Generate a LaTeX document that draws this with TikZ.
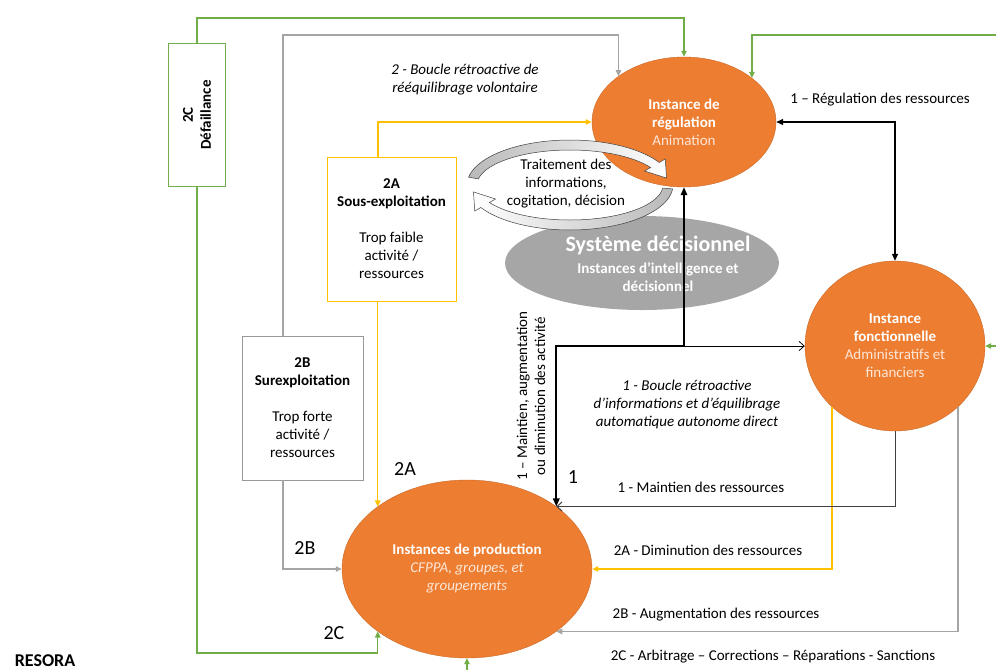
\documentclass[tikz,border=0pt]{standalone}
\usepackage{fontspec}
\setmainfont{Carlito}
\usetikzlibrary{shapes.geometric,arrows.meta,calc}
\definecolor{orng}{HTML}{ED7D31}
\definecolor{grn}{HTML}{70AD47}
\definecolor{ylw}{HTML}{FFC000}
\definecolor{gry}{HTML}{A5A5A5}
\definecolor{sysg}{HTML}{A6A6A6}
\definecolor{peach}{HTML}{FDE6D6}
\definecolor{dgry}{HTML}{404040}
\begin{document}
\begin{tikzpicture}[x=1pt,y=-1pt,
  every node/.style={font=\fontsize{15}{18}\selectfont, inner sep=0pt},
  inst/.style={ellipse, fill=orng, draw=orng!85!black, line width=0.4pt, text=white, align=center},
  boxn/.style={draw, fill=white, align=center, line width=0.8pt},
  lbl/.style={align=center},
  ital/.style={align=center, font=\fontsize{15}{18}\selectfont\itshape},
  big/.style={font=\fontsize{20}{24}\selectfont},
  tip/.style={-{Triangle[length=6pt,width=5.5pt]}},
  gl/.style={draw=grn, line width=1.3pt, tip},
  yl/.style={draw=ylw, line width=1.3pt, tip},
  grl/.style={draw=gry, line width=1.3pt, tip},
  blk/.style={draw=black, line width=1.6pt},
  band/.style={draw=black!75, line width=0.5pt}]
\useasboundingbox (0,0) rectangle (996,670);

% helper coordinates
\coordinate (gtop) at (0,18);
\coordinate (gyt) at (0,35);
\coordinate (gbot) at (0,653);
\coordinate (ybot) at (0,670);
\coordinate (yk) at (0,346);
\coordinate (redge) at (996,0);
\coordinate (grtop) at (996,35);

% main ellipses
\node[inst, minimum width=184pt, minimum height=130pt] (reg) at (684,122)
  {\textbf{Instance de}\\\textbf{régulation}\\\textcolor{peach}{Animation}};
\node[inst, minimum width=180pt, minimum height=170pt] (fonc) at (895,346)
  {\textbf{Instance}\\\textbf{fonctionnelle}\\\textcolor{peach}{Administratifs et}\\\textcolor{peach}{financiers}};
\node[inst, minimum width=250pt, minimum height=178pt] (prod) at (467,569)
  {\textbf{Instances de production}\\\textcolor{peach}{\itshape CFPPA, groupes, et}\\\textcolor{peach}{\itshape groupements}};
\node[ellipse, fill=sysg, minimum width=274pt, minimum height=94pt] (sys) at (642,263) {};
\node[text=white, align=center, font=\fontsize{15}{18}\selectfont\bfseries] (syst) at (658,264)
  {{\fontsize{22}{24}\selectfont Système décisionnel}\\[4pt]Instances d’intelligence et\\décisionnel};

% boxes
\node[boxn, draw=ylw, minimum width=129pt, minimum height=144pt] (a2) at (391.5,229)
  {\textbf{2A}\\\textbf{Sous-exploitation}\\[18pt]Trop faible\\activité /\\ressources};
\node[boxn, draw=gray!80, minimum width=121pt, minimum height=144pt] (b2) at (302.5,408)
  {\textbf{2B}\\\textbf{Surexploitation}\\[18pt]Trop forte\\activité /\\ressources};
\node[boxn, draw=grn, minimum width=57pt, minimum height=143pt] (c2) at (197,115) {};
\node[rotate=90, align=center, font=\fontsize{15}{18}\selectfont\bfseries] (c2t) at (197,115) {2C\\Défaillance};

% circular processing arrow
\def\cx{570}\def\cy{185}
\shade[band, left color=gray!55, right color=white]
  plot[domain=170:30, samples=40, smooth] ({\cx+103*cos(\x)},{\cy-45*sin(\x)})
  -- ({\cx+110*cos(30)},{\cy-52*sin(30)})
  -- ({\cx+98*cos(10)},{\cy-40*sin(10)})
  -- ({\cx+86*cos(30)},{\cy-28*sin(30)})
  -- plot[domain=30:170, samples=40, smooth] ({\cx+93*cos(\x)},{\cy-35*sin(\x)})
  -- cycle;
\shade[band, left color=white, right color=gray!55]
  plot[domain=355:210, samples=40, smooth] ({\cx+103*cos(\x)},{\cy-45*sin(\x)})
  -- ({\cx+110*cos(210)},{\cy-52*sin(210)})
  -- ({\cx+98*cos(190)},{\cy-40*sin(190)})
  -- ({\cx+86*cos(210)},{\cy-28*sin(210)})
  -- plot[domain=210:355, samples=40, smooth] ({\cx+93*cos(\x)},{\cy-35*sin(\x)})
  -- cycle;
\node[lbl] (trt) at (566,184) {Traitement des\\informations,\\cogitation, décision};

% green connectors
\draw[gl] (c2.north) |- (reg.north |- gtop) -- (reg.north);
\draw[gl] (c2.south) |- (prod.215 |- gbot) -- (prod.215);
\draw[gl] (grtop) -| (reg.33);
\draw[gl] (redge |- fonc.east) -- (fonc.east);
\draw[gl] (prod.south |- ybot) -- (prod.south);

% grey connectors
\draw[grl] ([xshift=-19.5pt]b2.north) |- (reg.145 |- gyt) -- (reg.145);
\draw[grl] ([xshift=-19.5pt]b2.south) |- (prod.west);
\draw[grl] (fonc.316) |- (prod.325);

% yellow connectors
\draw[yl] ([xshift=-13.5pt]a2.north) |- (reg.west);
\draw[yl] (prod.145 |- a2.south) -- (prod.145);
\draw[yl] (fonc.224) |- (prod.east);

% black connectors
\coordinate (k) at (reg.south |- yk);
\draw[blk, {Triangle[length=8pt,width=6.5pt]}-{Triangle[length=8pt,width=6.5pt]}] (reg.south) -- (k) -| (prod.35);
\draw[draw=black, line width=0.8pt, -{Straight Barb[length=5pt,width=9pt]}] (k) -- (fonc.west);
\draw[draw=black, line width=1.2pt, {Triangle[length=7pt,width=6pt]}-{Triangle[length=7pt,width=6pt]}] (reg.east) -| (fonc.north);
\draw[draw=dgry, line width=1pt, -{Straight Barb[length=5pt,width=9pt]}] (fonc.south) |- (prod.35);

% labels
\node[ital] (l2loop) at (465,80) {2 - Boucle rétroactive de\\rééquilibrage volontaire};
\node[lbl] (lreg) at (880,100) {1 – Régulation des ressources};
\node[ital] (l1loop) at (687,404) {1 - Boucle rétroactive\\d’informations et d’équilibrage\\automatique autonome direct};
\node[lbl, rotate=90] (lmaint) at (531,396) {1 – Maintien, augmentation\\ou diminution des activité};
\node[lbl] (lmr) at (701,487) {1 - Maintien des ressources};
\node[lbl] (ldim) at (708,550) {2A - Diminution des ressources};
\node[lbl] (laug) at (716,615) {2B - Augmentation des ressources};
\node[lbl] (larb) at (773,657) {2C - Arbitrage – Corrections – Réparations - Sanctions};
\node[big] (l2a) at (405,469) {2A};
\node[big] (l2b) at (305,548) {2B};
\node[big] (l2c) at (334,633) {2C};
\node[big] (l1) at (573,477) {1};
\node[font=\fontsize{18}{20}\selectfont\bfseries] (resora) at (45,661) {RESORA};
\end{tikzpicture}
\end{document}
